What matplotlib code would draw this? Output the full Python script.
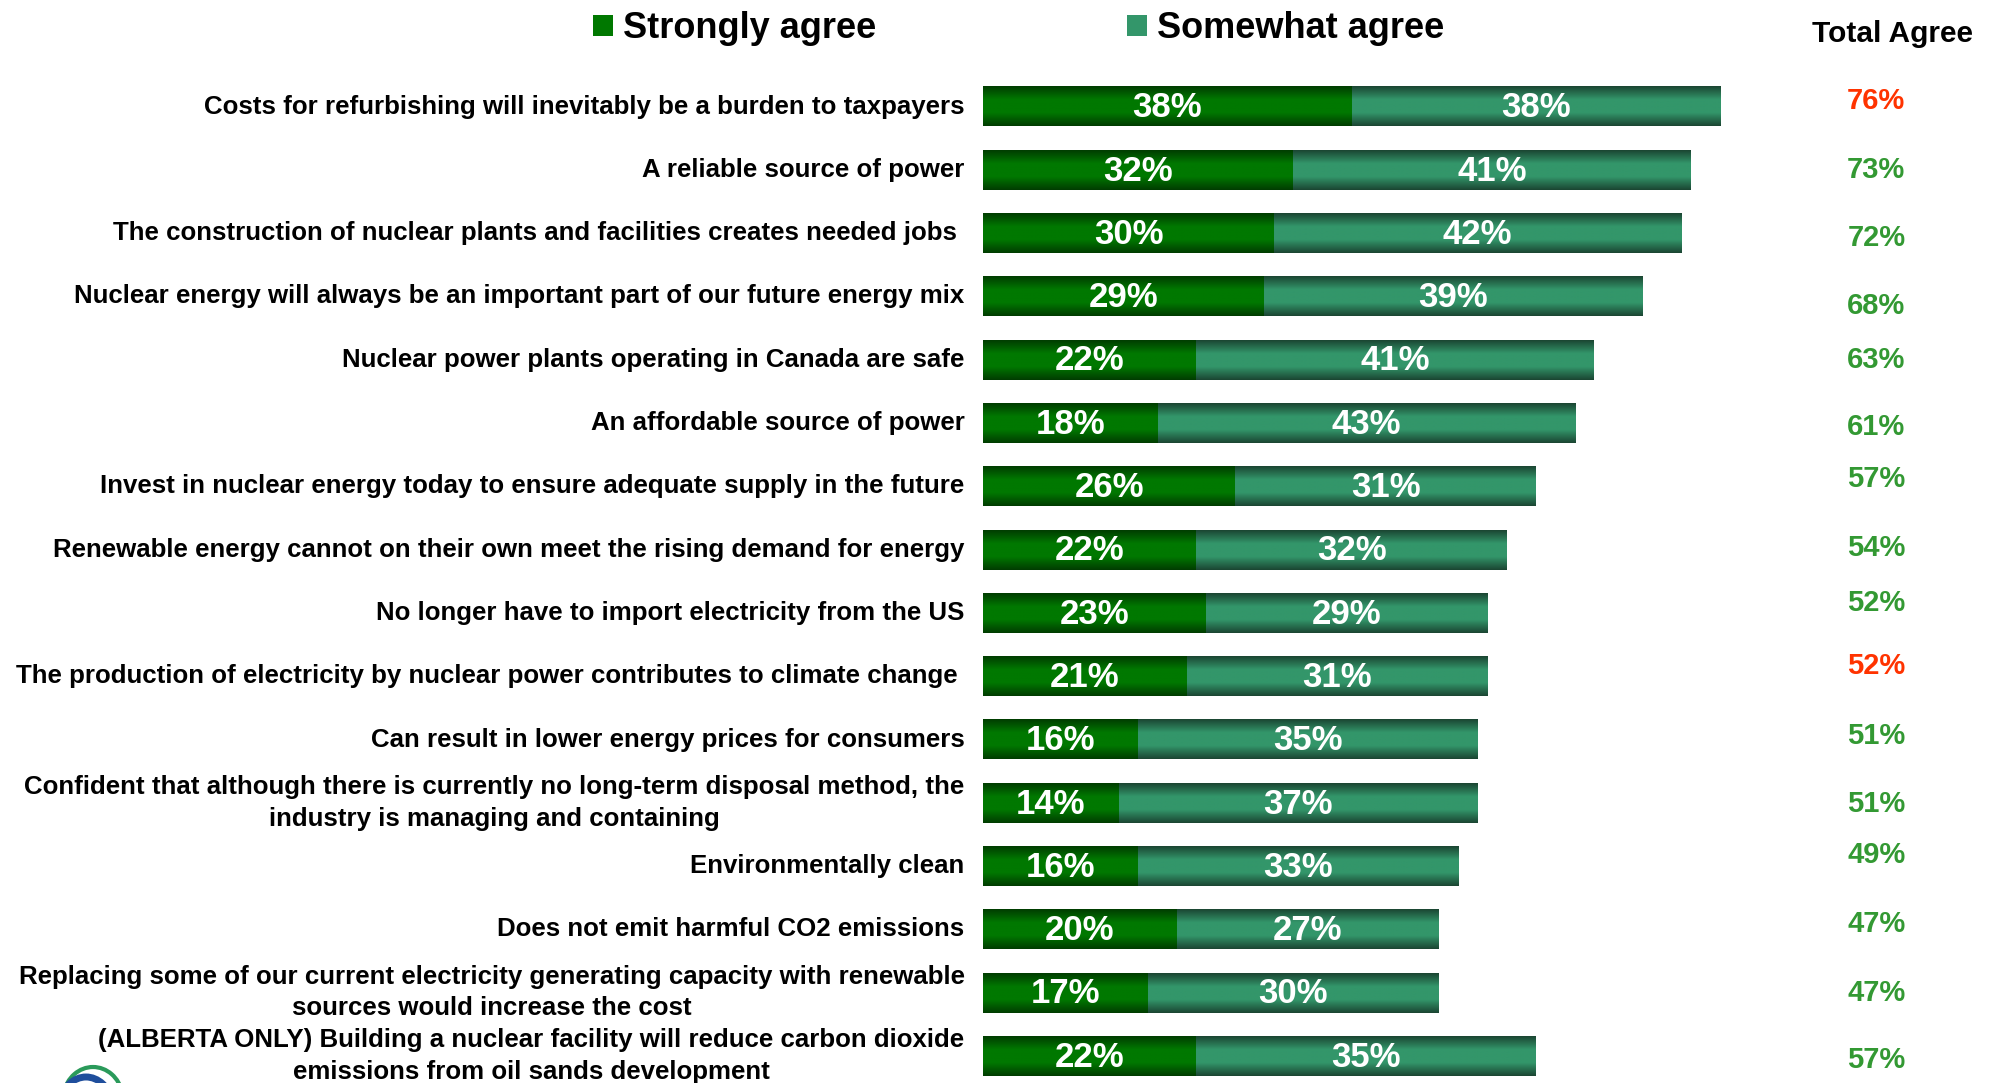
import numpy as np
import matplotlib
matplotlib.use('agg')
from matplotlib import pyplot as plt
from matplotlib.colors import LinearSegmentedColormap
from matplotlib.patches import Rectangle, Arc

# --- data ---
statements = [
    'Costs for refurbishing will inevitably be a burden to taxpayers',
    'A reliable source of power',
    'The construction of nuclear plants and facilities creates needed jobs ',
    'Nuclear energy will always be an important part of our future energy mix',
    'Nuclear power plants operating in Canada are safe',
    'An affordable source of power',
    'Invest in nuclear energy today to ensure adequate supply in the future',
    'Renewable energy cannot on their own meet the rising demand for energy',
    'No longer have to import electricity from the US',
    'The production of electricity by nuclear power contributes to climate change ',
    'Can result in lower energy prices for consumers',
    'Confident that although there is currently no long-term disposal method, the\nindustry is managing and containing',
    'Environmentally clean',
    'Does not emit harmful CO2 emissions',
    'Replacing some of our current electricity generating capacity with renewable\nsources would increase the cost',
    '(ALBERTA ONLY) Building a nuclear facility will reduce carbon dioxide\nemissions from oil sands development',
]
strongly = [38, 32, 30, 29, 22, 18, 26, 22, 23, 21, 16, 14, 16, 20, 17, 22]
somewhat = [38, 41, 42, 39, 41, 43, 31, 32, 29, 31, 35, 37, 33, 27, 30, 35]
total = [76, 73, 72, 68, 63, 61, 57, 54, 52, 52, 51, 51, 49, 47, 47, 57]
negative = [True, False, False, False, False, False, False, False, False,
            True, False, False, False, False, False, False]

# small vertical nudges of the total column, as laid out in the original slide
total_dy = [-0.08, 0, 0.07, 0.15, 0, 0.06, -0.12, -0.03, -0.15, -0.16,
            -0.06, 0.02, -0.17, -0.09, 0, 0.06]

FONT = ['Liberation Sans', 'DejaVu Sans']

W, H = 1994, 1083
fig = plt.figure(figsize=(W / 100, H / 100), dpi=100)
ax = fig.add_axes([0, 0, 1, 1])
ax.set_axis_off()

# 0% at x=983px, 9.70 px per percent; row 0 centred at y=106.5px, 63.3 px per row
XLIM = (-983 / 9.70, (W - 983) / 9.70)
YLIM = ((H - 106.5) / 63.3, -106.5 / 63.3)

y = np.arange(len(statements))
bar_h = 0.63
strong_c = '#007800'
some_c = '#33966a'
b1 = ax.barh(y, strongly, height=bar_h, color=strong_c)
b2 = ax.barh(y, somewhat, left=strongly, height=bar_h, color=some_c)


def shade(bars, edge, mid):
    cmap = LinearSegmentedColormap.from_list('g', [edge, mid, mid, edge])
    grad = np.linspace(0, 1, 64).reshape(-1, 1)
    for p in bars.patches:
        x0, y0, w, h = p.get_x(), p.get_y(), p.get_width(), p.get_height()
        ax.imshow(grad, cmap=cmap, aspect='auto', interpolation='bilinear',
                  extent=(x0, x0 + w, y0 + h, y0), zorder=2)


shade(b1, '#003d00', strong_c)
shade(b2, '#1b4633', some_c)
ax.set_xlim(*XLIM)
ax.set_ylim(*YLIM)

for i in range(len(statements)):
    ax.text(strongly[i] / 2, i + 0.02, f'{strongly[i]}%', ha='center', va='center',
            color='white', fontsize=25, fontweight='bold', family=FONT, zorder=3)
    ax.text(strongly[i] + somewhat[i] / 2, i + 0.02, f'{somewhat[i]}%', ha='center',
            va='center', color='white', fontsize=25, fontweight='bold', family=FONT, zorder=3)
    ax.text(-1.9, i, statements[i], ha='right', va='center', multialignment='center',
            fontsize=18.6, fontweight='bold', family=FONT, linespacing=1.4)
    ax.text(92.1, i + total_dy[i], f'{total[i]}%', ha='center', va='center',
            fontsize=21, fontweight='bold', family=FONT,
            color='#ff3300' if negative[i] else '#339933')

# legend
for sx, tx, col, lab in [(593, 623, strong_c, 'Strongly agree'),
                         (1127, 1157, some_c, 'Somewhat agree')]:
    fig.patches.append(Rectangle((sx / W, 1 - 36 / H), 20 / W, 21 / H,
                                 transform=fig.transFigure, facecolor=col,
                                 edgecolor='none'))
    fig.text(tx / W, 1 - 29 / H, lab, ha='left', va='center', fontsize=26,
             fontweight='bold', family=FONT)

fig.text(1892 / W, 1 - 34 / H, 'Total Agree', ha='center', va='center',
         fontsize=21.5, fontweight='bold', family=FONT)

# logo fragment, bottom-left corner
fig.patches.append(Arc((93 / W, 1 - 1100 / H), 60 / W, 66 / H, theta1=25, theta2=155,
                       transform=fig.transFigure, color='#2a9a5a', lw=3))
fig.patches.append(Arc((86 / W, 1 - 1112 / H), 56 / W, 70 / H, theta1=35, theta2=145,
                       transform=fig.transFigure, color='#1f4e9c', lw=5))

fig.savefig('out.png', dpi=100)
